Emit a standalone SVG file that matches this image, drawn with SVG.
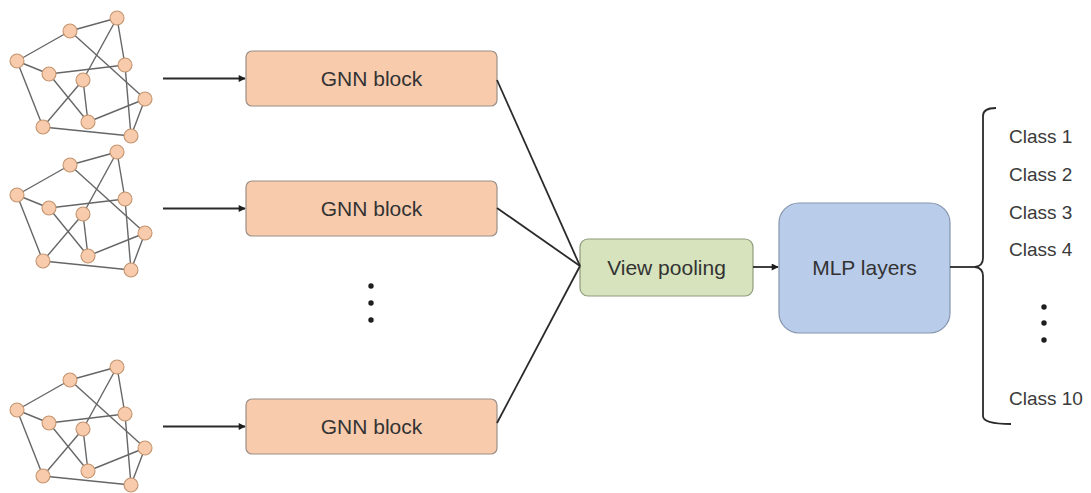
<svg xmlns="http://www.w3.org/2000/svg" xmlns:xlink="http://www.w3.org/1999/xlink" width="1091" height="493" viewBox="0 0 1091 493">
  <style>
    .edge { stroke: #666666; stroke-width: 1.4; fill: none; }
    .vert { fill: #F8CBAD; stroke: #C4946E; stroke-width: 1.1; }
    .wire { stroke: #2a2a2a; stroke-width: 1.8; fill: none; }
    .gnn { fill: #F8CBAD; stroke: #9c8f86; stroke-width: 1.2; }
    .pool { fill: #D6E3BC; stroke: #8f9c7c; stroke-width: 1.2; }
    .mlp { fill: #B9CCEA; stroke: #8795ad; stroke-width: 1.2; }
    .label { font-family: "Liberation Sans", Arial, sans-serif; font-size: 21px; fill: #333333; text-anchor: middle; }
    .cls { font-family: "Liberation Sans", Arial, sans-serif; font-size: 19px; fill: #3a3a3a; }
    .dot { fill: #1e1e1e; }
  </style>
  <defs>
    <marker id="arrow" viewBox="0 0 10 10" refX="9" refY="5" markerWidth="8" markerHeight="7" markerUnits="userSpaceOnUse" orient="auto">
      <path d="M0,0 L10,5 L0,10 z" fill="#1e1e1e"/>
    </marker>
    <!-- small input graph: ten vertices, fifteen edges -->
    <g id="graph-shape">
      <g class="edge">
        <line x1="70" y1="31" x2="117" y2="18"/>
        <line x1="17" y1="61" x2="70" y2="31"/>
        <line x1="117" y1="18" x2="125" y2="65"/>
        <line x1="117" y1="18" x2="83" y2="80"/>
        <line x1="70" y1="31" x2="145" y2="99"/>
        <line x1="17" y1="61" x2="49" y2="74"/>
        <line x1="17" y1="61" x2="43" y2="127"/>
        <line x1="49" y1="74" x2="125" y2="65"/>
        <line x1="49" y1="74" x2="88" y2="122"/>
        <line x1="83" y1="80" x2="43" y2="127"/>
        <line x1="83" y1="80" x2="88" y2="122"/>
        <line x1="125" y1="65" x2="131" y2="136"/>
        <line x1="88" y1="122" x2="145" y2="99"/>
        <line x1="145" y1="99" x2="131" y2="136"/>
        <line x1="43" y1="127" x2="131" y2="136"/>
      </g>
      <g class="vert">
        <circle cx="117" cy="18" r="7"/>
        <circle cx="70" cy="31" r="7"/>
        <circle cx="17" cy="61" r="7"/>
        <circle cx="49" cy="74" r="7"/>
        <circle cx="83" cy="80" r="7"/>
        <circle cx="125" cy="65" r="7"/>
        <circle cx="145" cy="99" r="7"/>
        <circle cx="88" cy="122" r="7"/>
        <circle cx="43" cy="127" r="7"/>
        <circle cx="131" cy="136" r="7"/>
      </g>
    </g>
  </defs>

  <rect width="1091" height="493" fill="#ffffff"/>

  <!-- input graphs -->
  <g id="graph-1"><use xlink:href="#graph-shape" href="#graph-shape"/></g>
  <g id="graph-2" transform="translate(0,134)"><use xlink:href="#graph-shape" href="#graph-shape"/></g>
  <g id="graph-3" transform="translate(0,349)"><use xlink:href="#graph-shape" href="#graph-shape"/></g>

  <!-- GNN blocks -->
  <g id="gnn-1">
    <rect class="gnn" x="246" y="51" width="251" height="55" rx="6"/>
    <text class="label" x="371.5" y="86">GNN block</text>
  </g>
  <g id="gnn-2">
    <rect class="gnn" x="246" y="181" width="251" height="55" rx="6"/>
    <text class="label" x="371.5" y="216">GNN block</text>
  </g>
  <g id="gnn-3">
    <rect class="gnn" x="246" y="399" width="251" height="55" rx="6"/>
    <text class="label" x="371.5" y="434">GNN block</text>
  </g>

  <!-- vertical ellipsis between blocks -->
  <g id="gnn-ellipsis">
    <circle class="dot" cx="371" cy="286" r="2.7"/>
    <circle class="dot" cx="371" cy="303" r="2.7"/>
    <circle class="dot" cx="371" cy="320" r="2.7"/>
  </g>

  <!-- pooling -->
  <g id="view-pooling">
    <rect class="pool" x="580" y="239" width="173" height="57" rx="8"/>
    <text class="label" x="666.5" y="275">View pooling</text>
  </g>

  <!-- classifier -->
  <g id="mlp-layers">
    <rect class="mlp" x="779" y="203" width="171" height="130" rx="20"/>
    <text class="label" x="864.5" y="275">MLP layers</text>
  </g>

  <!-- class outputs -->
  <g id="classes">
    <text class="cls" x="1009" y="143">Class 1</text>
    <text class="cls" x="1009" y="181">Class 2</text>
    <text class="cls" x="1009" y="219">Class 3</text>
    <text class="cls" x="1009" y="256">Class 4</text>
    <circle class="dot" cx="1044" cy="307" r="2.7"/>
    <circle class="dot" cx="1044" cy="323" r="2.7"/>
    <circle class="dot" cx="1044" cy="340" r="2.7"/>
    <text class="cls" x="1009" y="405">Class 10</text>
  </g>

  <!-- connectors -->
  <g id="connectors">
    <line class="wire" x1="163" y1="78.5" x2="245" y2="78.5" marker-end="url(#arrow)"/>
    <line class="wire" x1="163" y1="208.5" x2="245" y2="208.5" marker-end="url(#arrow)"/>
    <line class="wire" x1="163" y1="426.5" x2="245" y2="426.5" marker-end="url(#arrow)"/>
    <line class="wire" x1="497" y1="80" x2="580" y2="266"/>
    <line class="wire" x1="497" y1="208" x2="580" y2="266"/>
    <line class="wire" x1="497" y1="423" x2="580" y2="266"/>
    <line class="wire" x1="753" y1="267" x2="778" y2="267" marker-end="url(#arrow)"/>
    <line class="wire" x1="950" y1="267" x2="977" y2="267"/>
    <path class="wire" d="M996,108 Q983,108 983,116 L983,258 Q983,266 975,267 Q983,268 983,276 L983,416 Q983,424 1011,424"/>
  </g>
</svg>
